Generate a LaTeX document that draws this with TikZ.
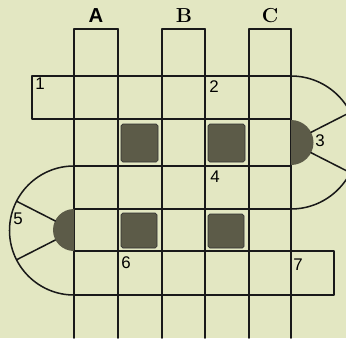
\documentclass[tikz,border=0pt]{standalone}
\usepackage{fontspec}
\setsansfont{Liberation Sans}
\usepackage{tikz}
\usetikzlibrary{positioning}
\definecolor{paper}{HTML}{E3E7C2}
\definecolor{blot}{HTML}{5C5B48}

\begin{document}
\begin{tikzpicture}[
  x=0.03cm, y=-0.03cm,
  grid/.style={line width=1.3pt, black!90, line cap=round, line join=round},
  blotbox/.style={fill=blot, draw=black!80, line width=0.6pt, rounded corners=1.5pt},
  num/.style={font=\sffamily\Large, inner sep=0pt},
  colname/.style={font=\bfseries\LARGE, inner sep=0pt},
]
  % Paper
  \fill[paper] (0,0) rectangle (346,338);
  \useasboundingbox (0,0) rectangle (346,338);

  % Columns A, B, C
  \foreach \x in {74,118,162,205,249,291}
    \draw[grid] (\x,29) -- (\x,338);
  \foreach \a/\b in {74/118,162/205,249/291}
    \draw[grid] (\a,29) -- (\b,29);

  % Rows
  \draw[grid] (74,76) -- (32,76) -- (32,119) -- (74,119);
  \draw[grid] (74,76) -- (291,76);
  \draw[grid] (74,119) -- (291,119);
  \draw[grid] (74,166) -- (291,166);
  \draw[grid] (74,209) -- (291,209);
  \draw[grid] (291,251) -- (334,251) -- (334,295) -- (291,295);
  \draw[grid] (74,251) -- (291,251);
  \draw[grid] (74,295) -- (291,295);

  % Right loop
  \draw[grid] (291,76) arc[start angle=-90, end angle=90, radius=66.5];
  \fill[blot] (291,120) arc[start angle=-90, end angle=90, radius=22.5] -- cycle;
  \draw[grid] ([shift={(291,142.5)}]-27:22.5) -- ([shift={(291,142.5)}]-27:66.5);
  \draw[grid] ([shift={(291,142.5)}]27:22.5) -- ([shift={(291,142.5)}]27:66.5);

  % Left loop
  \draw[grid] (74,166) arc[start angle=-90, end angle=-270, radius=64.5];
  \fill[blot] (74,209) arc[start angle=-90, end angle=-270, radius=21] -- cycle;
  \draw[grid] ([shift={(74,230.5)}]-153:21) -- ([shift={(74,230.5)}]-153:64.5);
  \draw[grid] ([shift={(74,230.5)}]153:21) -- ([shift={(74,230.5)}]153:64.5);

  % Black squares
  \draw[blotbox] (121,124) rectangle (158,162);
  \draw[blotbox] (208,124) rectangle (245,162);
  \draw[blotbox] (121,213) rectangle (157,248);
  \draw[blotbox] (208,214) rectangle (244,248);

  % Column names
  \node[colname] (colA) at (96,16) {\sffamily A};
  \node[colname] (colB) at (184,16) {B};
  \node[colname] (colC) at (270,16) {C};

  % Numbers
  \node[num] (n1) at (40,84) {1};
  \node[num] (n2) at (214,87) {2};
  \node[num] (n3) at (320,141) {3};
  \node[num] (n4) at (215,177) {4};
  \node[num] (n5) at (18,219) {5};
  \node[num] (n6) at (126,263) {6};
  \node[num] (n7) at (298,265) {7};
\end{tikzpicture}
\end{document}
